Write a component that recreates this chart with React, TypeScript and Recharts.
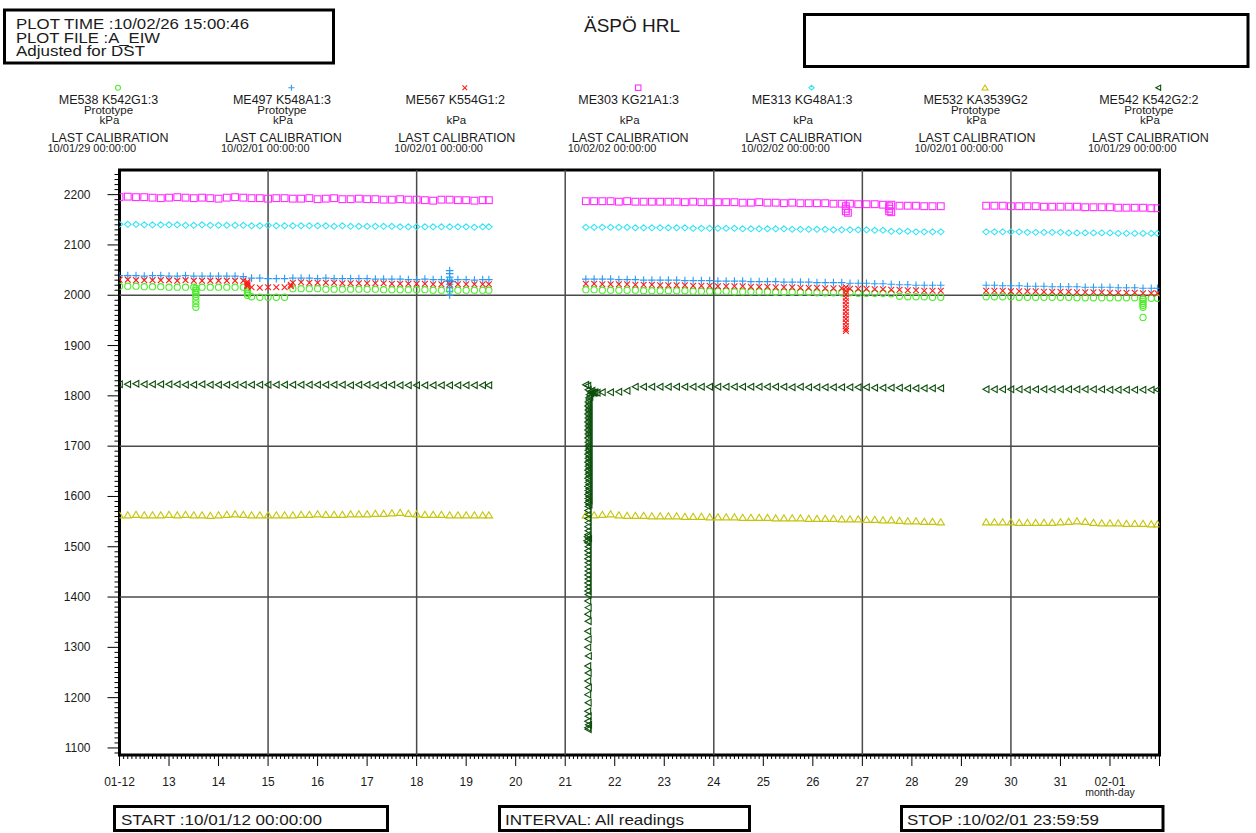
import { ScatterChart, Scatter, XAxis, YAxis, ReferenceLine, ReferenceArea } from "recharts"

const FONT = "'Liberation Sans', Arial, Helvetica, sans-serif"
const INK = "#1a1a1a"

// reading times, hours after 10/01/12 00:00
const hours1 = [0, 4, 8, 12, 16, 20, 24, 28, 32, 36, 40, 44, 48, 52, 56, 60, 64, 68, 72, 76, 80, 84, 88, 92, 96, 100, 104, 108, 112, 116, 120, 124, 128, 132, 136, 140, 144, 148, 152, 156, 160, 164, 168, 172, 176, 179]
const hours2 = [226, 230, 234, 238, 242, 246, 250, 254, 258, 262, 266, 270, 274, 278, 282, 286, 290, 294, 298, 302, 306, 310, 314, 318, 322, 326, 330, 334, 338, 342, 346, 350, 354, 358, 362, 366, 370, 374, 378, 382, 386, 390, 394, 398]
const hours3 = [420, 424, 428, 432, 436, 440, 444, 448, 452, 456, 460, 464, 468, 472, 476, 480, 484, 488, 492, 496, 500, 503]

// ME538 K542G1:3
const me538a = [2018, 2018, 2018, 2017, 2017, 2017, 2016, 2016, 2016, 2016, 2016, 2016, 2016, 2016, 2016, 2016, 1997, 1996, 1996, 1996, 1996, 2013, 2013, 2013, 2013, 2012, 2012, 2012, 2012, 2012, 2012, 2012, 2011, 2011, 2011, 2011, 2011, 2011, 2010, 2010, 2010, 2010, 2010, 2010, 2010, 2010]
const me538b = [2011, 2011, 2010, 2010, 2010, 2010, 2010, 2009, 2009, 2009, 2009, 2009, 2009, 2008, 2008, 2008, 2008, 2008, 2007, 2007, 2007, 2007, 2007, 2006, 2006, 2006, 2006, 2006, 2005, 2005, 2005, 2005, 2005, 2004, 2004, 2004, 2004, 2003, 1998, 1997, 1997, 1997, 1996, 1996]
const me538c = [1997, 1997, 1997, 1997, 1996, 1996, 1996, 1996, 1996, 1996, 1996, 1995, 1995, 1995, 1995, 1995, 1995, 1995, 1995, 1994, 1994, 1994]
const me538Spikes = [[37, 2014], [37, 2010], [37, 2006], [37, 2002], [37, 1997], [37, 1990], [37, 1983], [37, 1976], [62, 2012], [62, 2008], [62, 2004], [62, 2000], [496, 1992], [496, 1988], [496, 1984], [496, 1980], [496, 1976], [496, 1956]]

// ME497 K548A1:3
const me497a = [2039, 2039, 2039, 2038, 2039, 2039, 2038, 2038, 2039, 2038, 2038, 2038, 2038, 2038, 2038, 2037, 2034, 2034, 2033, 2033, 2033, 2034, 2034, 2034, 2033, 2034, 2033, 2033, 2033, 2033, 2033, 2032, 2032, 2032, 2032, 2031, 2031, 2032, 2031, 2031, 2030, 2031, 2031, 2030, 2031, 2031]
const me497b = [2032, 2032, 2032, 2032, 2031, 2031, 2031, 2030, 2030, 2030, 2030, 2030, 2029, 2029, 2029, 2029, 2028, 2028, 2028, 2028, 2027, 2027, 2027, 2027, 2026, 2026, 2026, 2026, 2025, 2025, 2025, 2025, 2024, 2024, 2024, 2023, 2023, 2022, 2021, 2021, 2020, 2020, 2020, 2020]
const me497c = [2020, 2020, 2019, 2019, 2019, 2018, 2018, 2018, 2017, 2017, 2017, 2017, 2016, 2016, 2016, 2016, 2015, 2015, 2015, 2014, 2014, 2014]
const me497Spikes = [[160, 2049], [160, 2043], [160, 2036], [160, 2029], [161, 2027], [159, 2028], [160, 2022], [160, 2015], [160, 2008], [160, 2000]]

// ME567 K554G1:2
const me567a = [2031, 2031, 2030, 2030, 2030, 2030, 2030, 2029, 2030, 2029, 2029, 2029, 2029, 2029, 2029, 2029, 2016, 2015, 2016, 2016, 2016, 2025, 2026, 2025, 2025, 2025, 2025, 2024, 2024, 2024, 2024, 2024, 2024, 2023, 2023, 2023, 2023, 2023, 2022, 2022, 2022, 2022, 2022, 2022, 2022, 2022]
const me567b = [2023, 2023, 2022, 2022, 2022, 2022, 2021, 2021, 2021, 2020, 2020, 2020, 2020, 2019, 2019, 2019, 2018, 2018, 2018, 2018, 2017, 2017, 2017, 2016, 2016, 2016, 2015, 2015, 2015, 2014, 2014, 2014, 2013, 2013, 2013, 2012, 2012, 2011, 2011, 2010, 2010, 2009, 2009, 2009]
const me567c = [2009, 2009, 2009, 2008, 2008, 2008, 2008, 2007, 2007, 2007, 2007, 2006, 2006, 2006, 2006, 2005, 2005, 2005, 2005, 2004, 2004, 2004]
const me567Spikes = [[62, 2027], [62, 2024], [62, 2021], [62, 2018], [83, 2018], [83, 2021], [352, 2016], [352, 2009], [352, 2002], [352, 1995], [352, 1988], [352, 1981], [352, 1974], [352, 1967], [352, 1960], [352, 1953], [352, 1946], [352, 1939], [352, 1933], [352, 1929]]

// ME303 KG21A1:3
const me303a = [2195, 2196, 2195, 2195, 2194, 2193, 2194, 2195, 2194, 2193, 2194, 2193, 2192, 2194, 2195, 2194, 2193, 2193, 2192, 2193, 2193, 2192, 2192, 2193, 2191, 2192, 2193, 2191, 2191, 2192, 2191, 2191, 2190, 2190, 2191, 2190, 2190, 2189, 2188, 2190, 2190, 2189, 2189, 2188, 2189, 2189]
const me303b = [2187, 2187, 2187, 2187, 2186, 2187, 2186, 2186, 2186, 2186, 2186, 2186, 2185, 2186, 2185, 2185, 2185, 2185, 2185, 2184, 2184, 2185, 2184, 2184, 2183, 2184, 2183, 2183, 2183, 2183, 2182, 2182, 2182, 2181, 2181, 2181, 2180, 2180, 2178, 2178, 2178, 2177, 2177, 2177]
const me303c = [2178, 2178, 2178, 2177, 2177, 2177, 2177, 2176, 2176, 2176, 2176, 2176, 2175, 2175, 2175, 2175, 2174, 2174, 2174, 2174, 2173, 2173]
const me303Spikes = [[352, 2177], [352, 2172], [352, 2167], [353, 2164], [373, 2177], [373, 2172], [373, 2167], [374, 2165]]

// ME313 KG48A1:3
const me313a = [2141, 2141, 2141, 2140, 2140, 2140, 2140, 2140, 2139, 2139, 2140, 2139, 2139, 2139, 2139, 2139, 2138, 2138, 2139, 2138, 2138, 2138, 2138, 2138, 2138, 2138, 2137, 2138, 2137, 2137, 2137, 2137, 2137, 2137, 2136, 2136, 2136, 2136, 2136, 2136, 2136, 2136, 2136, 2135, 2136, 2136]
const me313b = [2135, 2135, 2135, 2135, 2135, 2135, 2134, 2134, 2134, 2134, 2134, 2134, 2134, 2133, 2133, 2133, 2133, 2133, 2133, 2132, 2132, 2132, 2132, 2132, 2132, 2131, 2131, 2131, 2131, 2131, 2130, 2130, 2130, 2130, 2130, 2129, 2129, 2127, 2127, 2127, 2126, 2126, 2126, 2126]
const me313c = [2126, 2126, 2126, 2126, 2126, 2125, 2125, 2125, 2125, 2125, 2124, 2124, 2124, 2124, 2124, 2124, 2123, 2123, 2123, 2123, 2123, 2123]

// ME532 KA3539G2
const me532a = [1563, 1563, 1564, 1563, 1563, 1563, 1564, 1563, 1564, 1563, 1563, 1562, 1563, 1564, 1565, 1564, 1563, 1563, 1563, 1563, 1563, 1563, 1564, 1564, 1565, 1564, 1564, 1564, 1565, 1565, 1565, 1566, 1566, 1567, 1568, 1566, 1565, 1564, 1564, 1564, 1563, 1563, 1563, 1563, 1563, 1563]
const me532b = [1563, 1563, 1564, 1565, 1563, 1562, 1562, 1562, 1561, 1561, 1561, 1561, 1560, 1560, 1560, 1559, 1559, 1559, 1559, 1558, 1558, 1558, 1558, 1557, 1557, 1557, 1557, 1556, 1556, 1556, 1556, 1555, 1555, 1555, 1554, 1554, 1553, 1553, 1552, 1551, 1551, 1550, 1550, 1549]
const me532c = [1549, 1549, 1549, 1549, 1548, 1548, 1548, 1548, 1548, 1549, 1550, 1551, 1550, 1548, 1547, 1547, 1547, 1546, 1546, 1546, 1545, 1545]

// ME542 K542G2:2
const me542a = [1823, 1823, 1824, 1823, 1823, 1823, 1823, 1823, 1822, 1822, 1823, 1822, 1822, 1822, 1822, 1822, 1822, 1822, 1822, 1822, 1822, 1822, 1822, 1822, 1822, 1822, 1822, 1822, 1821, 1822, 1822, 1821, 1821, 1822, 1821, 1821, 1821, 1821, 1821, 1821, 1821, 1821, 1821, 1821, 1821, 1821]
const me542b = [1822, 1806, 1807, 1807, 1808, 1810, 1818, 1818, 1818, 1818, 1818, 1818, 1818, 1818, 1818, 1818, 1818, 1818, 1818, 1818, 1818, 1818, 1818, 1818, 1818, 1817, 1818, 1817, 1817, 1817, 1817, 1817, 1817, 1817, 1817, 1816, 1816, 1816, 1816, 1815, 1815, 1815, 1815, 1815]
const me542c = [1813, 1813, 1813, 1813, 1813, 1812, 1813, 1813, 1813, 1813, 1813, 1813, 1813, 1813, 1813, 1812, 1812, 1812, 1812, 1812, 1812, 1812]
// pressure recovery after 01-21
const me542Recovery = [
  [227.2, 1137], [227.0, 1140], [227.4, 1146], [227.0, 1153], [227.2, 1163], [227.0, 1173], [227.2, 1190], [227.0, 1206],
  [227.3, 1220], [227.0, 1233], [227.2, 1249], [227.0, 1263], [227.3, 1283], [227.0, 1300], [227.2, 1316], [227.0, 1332],
  [227.2, 1352], [227.0, 1366], [227.2, 1379], [227.0, 1392], [227.2, 1405],
  [227.0, 1412], [227.2, 1420], [227.0, 1428], [227.2, 1436], [227.0, 1444], [227.2, 1452], [227.0, 1460], [227.2, 1468],
  [227.0, 1476], [227.2, 1484], [227.0, 1492], [227.2, 1500], [227.0, 1508], [226.6, 1512], [227.4, 1516], [226.8, 1520],
  [227.0, 1524], [227.2, 1532], [227.0, 1540], [227.2, 1548], [227.0, 1556], [227.2, 1564], [227.0, 1572], [227.2, 1580],
  [227.0, 1588], [227.2, 1596], [227.0, 1604], [227.2, 1612], [227.0, 1620], [227.2, 1628], [227.0, 1636], [227.2, 1644],
  [227.0, 1652], [227.2, 1660], [227.0, 1668], [227.2, 1676], [227.0, 1684], [227.2, 1692], [227.0, 1700], [227.2, 1708],
  [227.0, 1716], [227.2, 1724], [227.0, 1732], [227.2, 1740], [227.0, 1748], [227.2, 1756], [227.0, 1764], [227.2, 1772],
  [227.0, 1780], [227.2, 1788], [227.4, 1796], [227.8, 1802], [228.5, 1805], [229.5, 1806], [227.2, 1812], [227.0, 1820],
  [227.6, 1584], [227.6, 1592], [227.6, 1600], [227.6, 1608], [227.6, 1616], [227.6, 1624], [227.6, 1632], [227.6, 1640],
  [227.6, 1648], [227.6, 1656], [227.6, 1664], [227.6, 1672], [227.6, 1680], [227.6, 1688], [227.6, 1696], [227.6, 1704],
  [227.6, 1712], [227.6, 1720], [227.6, 1728], [227.6, 1736], [227.6, 1744], [227.6, 1752], [227.6, 1760], [227.6, 1768],
  [227.6, 1776], [227.6, 1784], [227.6, 1792], [228.0, 1798], [228.2, 1808], [229.0, 1810], [230.5, 1807], [231.5, 1806],
]

// axis labels and grid
const dayHours = [0, 24, 48, 72, 96, 120, 144, 168, 192, 216, 240, 264, 288, 312, 336, 360, 384, 408, 432, 456, 480]
const dayLabels = ["01-12", "13", "14", "15", "16", "17", "18", "19", "20", "21", "22", "23", "24", "25", "26", "27", "28", "29", "30", "31", "02-01"]
const gridHours = [72, 144, 216, 288, 360, 432]
const gridKpa = [2000, 1700, 1400]

// legend texts
const legendNames = ["ME538 K542G1:3", "ME497 K548A1:3", "ME567 K554G1:2", "ME303 KG21A1:3", "ME313 KG48A1:3", "ME532 KA3539G2", "ME542 K542G2:2"]
const legendTypes = ["Prototype", "Prototype", "", "", "", "Prototype", "Prototype"]
const legendUnits = ["kPa", "kPa", "kPa", "kPa", "kPa", "kPa", "kPa"]
const legendCalibrations = ["10/01/29 00:00:00", "10/02/01 00:00:00", "10/02/01 00:00:00", "10/02/02 00:00:00", "10/02/02 00:00:00", "10/02/01 00:00:00", "10/01/29 00:00:00"]

const X_TICKS = Array.from({ length: 253 }, (_, i) => i * 2)
const Y_TICKS = Array.from({ length: 116 }, (_, i) => 1090 + i * 10)

type Row = { h: number; v: number }

function rows(hours: number[], vals: number[]): Row[] {
  return hours.map((h, i) => ({ h, v: vals[i] }))
}

function pairs(list: number[][]): Row[] {
  return list.map(([h, v]) => ({ h, v }))
}

const series = [
  { name: "ME538", kind: "circle", color: "#4eec2c", data: [...rows(hours1, me538a), ...rows(hours2, me538b), ...rows(hours3, me538c), ...pairs(me538Spikes)] },
  { name: "ME497", kind: "plus", color: "#2b9cf2", data: [...rows(hours1, me497a), ...rows(hours2, me497b), ...rows(hours3, me497c), ...pairs(me497Spikes)] },
  { name: "ME567", kind: "cross", color: "#ff1a1a", data: [...rows(hours1, me567a), ...rows(hours2, me567b), ...rows(hours3, me567c), ...pairs(me567Spikes)] },
  { name: "ME303", kind: "square", color: "#ff30ff", data: [...rows(hours1, me303a), ...rows(hours2, me303b), ...rows(hours3, me303c), ...pairs(me303Spikes)] },
  { name: "ME313", kind: "diamond", color: "#30e4f4", data: [...rows(hours1, me313a), ...rows(hours2, me313b), ...rows(hours3, me313c)] },
  { name: "ME532", kind: "triangle", color: "#c4c40a", data: [...rows(hours1, me532a), ...rows(hours2, me532b), ...rows(hours3, me532c)] },
  { name: "ME542", kind: "left", color: "#0c4f0c", data: [...rows(hours1, me542a), ...rows(hours2, me542b), ...rows(hours3, me542c), ...pairs(me542Recovery)] },
]

function Marker({ kind, color, cx, cy, s = 1 }: { kind: string; color: string; cx?: number; cy?: number; s?: number }) {
  if (cx == null || cy == null) return null
  const common = { fill: "none", stroke: color, strokeWidth: 1.1 }
  switch (kind) {
    case "circle":
      return <circle cx={cx} cy={cy} r={3.1 * s} {...common} />
    case "plus":
      return <path d={`M${cx - 3.8 * s},${cy}H${cx + 3.8 * s}M${cx},${cy - 3.8 * s}V${cy + 3.8 * s}`} {...common} />
    case "cross":
      return <path d={`M${cx - 2.9 * s},${cy - 2.9 * s}L${cx + 2.9 * s},${cy + 2.9 * s}M${cx - 2.9 * s},${cy + 2.9 * s}L${cx + 2.9 * s},${cy - 2.9 * s}`} {...common} />
    case "square":
      return <rect x={cx - 3.4 * s} y={cy - 3.4 * s} width={6.8 * s} height={6.8 * s} {...common} />
    case "diamond":
      return <path d={`M${cx},${cy - 3 * s}L${cx + 3.3 * s},${cy}L${cx},${cy + 3 * s}L${cx - 3.3 * s},${cy}Z`} {...common} />
    case "triangle":
      return <path d={`M${cx},${cy - 3.3 * s}L${cx + 3.7 * s},${cy + 2.8 * s}L${cx - 3.7 * s},${cy + 2.8 * s}Z`} {...common} />
    default:
      return <path d={`M${cx - 3.2 * s},${cy}L${cx + 2.8 * s},${cy - 3.3 * s}L${cx + 2.8 * s},${cy + 3.3 * s}Z`} {...common} />
  }
}

function XTick({ x, y, payload }: any) {
  const h = payload.value
  const major = h % 24 === 0
  const idx = dayHours.indexOf(h)
  return (
    <g>
      <line x1={x} x2={x} y1={y} y2={y + (major ? 11 : 4)} stroke="#000" strokeWidth={1} />
      {idx >= 0 && (
        <text x={x} y={y + 31} textAnchor="middle" fontSize={12} fontFamily={FONT} fill={INK}>
          {dayLabels[idx]}
        </text>
      )}
      {h === 480 && (
        <text x={x} y={y + 41} textAnchor="middle" fontSize={10.5} fontFamily={FONT} fill={INK}>
          month-day
        </text>
      )}
    </g>
  )
}

function YTick({ x, y, payload }: any) {
  const v = payload.value
  const major = v % 100 === 0
  return (
    <g>
      <line x1={x - (major ? 12 : 5)} x2={x} y1={y} y2={y} stroke="#000" strokeWidth={1} />
      {major && (
        <text x={x - 29} y={y + 4} textAnchor="end" fontSize={12} fontFamily={FONT} fill={INK}>
          {v}
        </text>
      )}
    </g>
  )
}

function Header() {
  const colX = (i: number) => 108.5 + 173.4 * i
  const box = { fill: "none", stroke: "#000", strokeWidth: 3 }
  const txt = { fontFamily: FONT, fill: INK }
  const wide = { ...txt, fontSize: 15, lengthAdjust: "spacingAndGlyphs" as const }
  return (
    <svg width={1256} height={833} style={{ position: "absolute", left: 0, top: 0, pointerEvents: "none" }}>
      <rect x={4.5} y={10} width={329} height={53} {...box} />
      <text x={16} y={29.3} textLength={233} {...wide}>PLOT TIME :10/02/26 15:00:46</text>
      <text x={16} y={42.5} textLength={144} {...wide}>PLOT FILE :A_EIW</text>
      <text x={16} y={55.8} textLength={129} {...wide}>Adjusted for DST</text>
      <text x={632} y={31.5} fontSize={19} textAnchor="middle" {...txt}>ÄSPÖ HRL</text>
      <rect x={804.5} y={14.5} width={443.5} height={52} {...box} />

      {legendNames.map((name, i) => {
        const c = colX(i)
        const s = series[i]
        return (
          <g key={name}>
            <Marker kind={s.kind} color={s.color} cx={c + 9.5} cy={87.7} s={0.8} />
            <text x={c} y={104} fontSize={12.5} textAnchor="middle" {...txt}>{name}</text>
            {legendTypes[i] && <text x={c} y={114} fontSize={11.5} textAnchor="middle" {...txt}>{legendTypes[i]}</text>}
            <text x={c + 1} y={124.3} fontSize={11.5} textAnchor="middle" {...txt}>{legendUnits[i]}</text>
            <text x={c + 1.5} y={141.5} fontSize={12.5} textAnchor="middle" {...txt}>LAST CALIBRATION</text>
            <text x={c - 61} y={151.7} fontSize={11} {...txt}>{legendCalibrations[i]}</text>
          </g>
        )
      })}

      <rect x={114.5} y={806.5} width={273} height={24} {...box} />
      <text x={121} y={825} textLength={201} {...wide}>START :10/01/12 00:00:00</text>
      <rect x={499.5} y={806.5} width={250} height={24} {...box} />
      <text x={505} y={825} textLength={179} {...wide}>INTERVAL: All readings</text>
      <rect x={901.5} y={806.5} width={261.5} height={24} {...box} />
      <text x={907} y={825} textLength={192} {...wide}>STOP :10/02/01 23:59:59</text>
    </svg>
  )
}

export default function App() {
  return (
    <div style={{ position: "absolute", left: 0, top: 0, width: 1256, height: 833, background: "#fff", fontFamily: FONT }}>
      <div style={{ position: "absolute", left: 0, top: 0 }}>
        <ScatterChart width={1256} height={833} margin={{ top: 170, right: 96.5, bottom: 28, left: 59.5 }}>
          <XAxis
            type="number"
            dataKey="h"
            domain={[0, 504]}
            ticks={X_TICKS}
            interval={0}
            tickLine={false}
            axisLine={false}
            tickSize={0}
            tickMargin={0}
            height={50}
            allowDataOverflow
            tick={(p: any) => <XTick {...p} />}
          />
          <YAxis
            type="number"
            dataKey="v"
            domain={[1086, 2249]}
            ticks={Y_TICKS}
            interval={0}
            tickLine={false}
            axisLine={false}
            tickSize={0}
            tickMargin={0}
            width={60}
            allowDataOverflow
            tick={(p: any) => <YTick {...p} />}
          />
          {gridHours.map((h) => (
            <ReferenceLine key={"x" + h} x={h} stroke="#4a4a4a" strokeWidth={1.5} />
          ))}
          {gridKpa.map((v) => (
            <ReferenceLine key={"y" + v} y={v} stroke="#4a4a4a" strokeWidth={1.5} />
          ))}
          {series.map((s) => (
            <Scatter
              key={s.name}
              name={s.name}
              data={s.data}
              isAnimationActive={false}
              shape={(p: any) => <Marker kind={s.kind} color={s.color} cx={p.cx} cy={p.cy} />}
            />
          ))}
          <ReferenceArea x1={0} x2={504} y1={1086} y2={2249} fill="none" stroke="#000" strokeWidth={3} ifOverflow="visible" />
        </ScatterChart>
      </div>
      <Header />
    </div>
  )
}
